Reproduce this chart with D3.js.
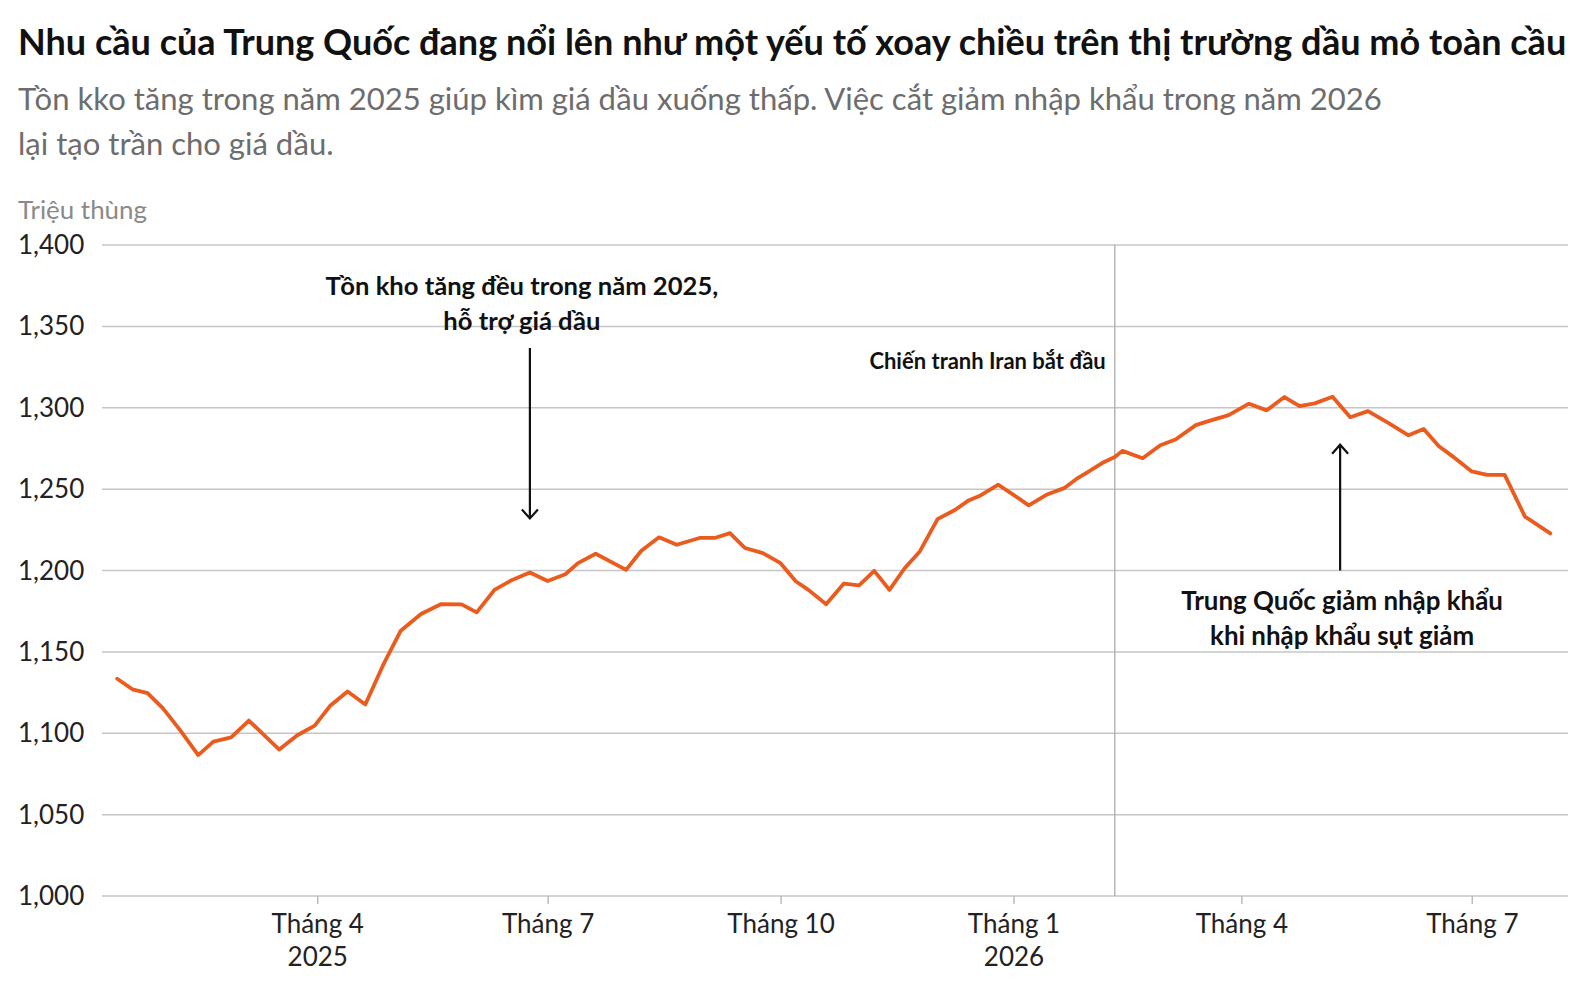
<!DOCTYPE html>
<html>
<head>
<meta charset="utf-8">
<script src="https://cdn.jsdelivr.net/npm/d3@7"></script>
<style>
  html, body { margin: 0; padding: 0; background: #fff; }
  svg { display: block; }
</style>
</head>
<body>
<div id="chart"></div>
<script>
// Tồn kho dầu thô Trung Quốc (triệu thùng)
const dates = [
  "2025-01-12","2025-01-18","2025-01-24","2025-01-30","2025-02-06","2025-02-13","2025-02-19","2025-02-26",
  "2025-03-05","2025-03-17","2025-03-24","2025-03-31","2025-04-06","2025-04-13","2025-04-20","2025-04-27",
  "2025-05-04","2025-05-12","2025-05-20","2025-05-28","2025-06-03","2025-06-10","2025-06-17","2025-06-24",
  "2025-07-01","2025-07-08","2025-07-13","2025-07-20","2025-08-01","2025-08-07","2025-08-14","2025-08-21",
  "2025-08-30","2025-09-05","2025-09-11","2025-09-17","2025-09-24","2025-10-01","2025-10-07","2025-10-12",
  "2025-10-19","2025-10-26","2025-11-01","2025-11-07","2025-11-13","2025-11-19","2025-11-25","2025-12-02",
  "2025-12-09","2025-12-14","2025-12-19","2025-12-26","2026-01-01","2026-01-07","2026-01-14","2026-01-21",
  "2026-01-26","2026-01-30","2026-02-05","2026-02-10","2026-02-13","2026-02-21","2026-02-28","2026-03-06",
  "2026-03-14","2026-03-19","2026-03-27","2026-04-04","2026-04-11","2026-04-18","2026-04-24","2026-04-30",
  "2026-05-07","2026-05-14","2026-05-21","2026-05-29","2026-06-06","2026-06-12","2026-06-18","2026-06-24",
  "2026-07-01","2026-07-07","2026-07-14","2026-07-22","2026-08-01"
];
const stocks = [
  1133.5, 1127, 1124.7, 1115.4, 1101.6, 1086.6, 1094.9, 1097.5, 1107.8, 1090,
  1098.6, 1104.7, 1116.7, 1125.7, 1117.7, 1141.8, 1163, 1173.3, 1179.4, 1179.2,
  1174.3, 1188.1, 1194.2, 1198.8, 1193.6, 1197.7, 1204.5, 1210.3, 1200.4, 1212.1,
  1220.4, 1215.8, 1220, 1220, 1223, 1213.8, 1210.7, 1204.5, 1193.4, 1188.1,
  1179.3, 1192, 1190.8, 1199.8, 1188.1, 1201.4, 1211.7, 1231.6, 1237.3, 1242.8,
  1246.1, 1252.7, 1246.5, 1240, 1246.5, 1250.6, 1256.4, 1260.2, 1266, 1269.7,
  1273.5, 1269, 1277, 1280.5, 1289.3, 1291.8, 1295.5, 1302.5, 1298.4, 1306.6,
  1301, 1302.7, 1306.8, 1294.2, 1297.9, 1290.7, 1283.1, 1287, 1276.3, 1269.5,
  1260.9, 1258.8, 1258.8, 1233.1, 1222.8
];
const yTicks = [1000, 1050, 1100, 1150, 1200, 1250, 1300, 1350, 1400];
const xTicks = ["2025-04-01", "2025-07-01", "2025-10-01", "2026-01-01", "2026-04-01", "2026-07-01"];
const xYears = { "2025-04-01": "2025", "2026-01-01": "2026" };
const warStart = "2026-02-10";

const title = "Nhu cầu của Trung Quốc đang nổi lên như một yếu tố xoay chiều trên thị trường dầu mỏ toàn cầu";
const subtitle = [
  "Tồn kko tăng trong năm 2025 giúp kìm giá dầu xuống thấp. Việc cắt giảm nhập khẩu trong năm 2026",
  "lại tạo trần cho giá dầu."
];
const unitLabel = "Triệu thùng";
const noteBuild = ["Tồn kho tăng đều trong năm 2025,", "hỗ trợ giá dầu"];
const noteWar = "Chiến tranh Iran bắt đầu";
const noteCut = ["Trung Quốc giảm nhập khẩu", "khi nhập khẩu sụt giảm"];

const W = 1592, H = 988;
const plotL = 102, plotR = 1568, plotT = 245, plotB = 896;
const FONT = "Lato, 'Open Sans', sans-serif";
const parse = d3.timeParse("%Y-%m-%d");
const fmtDay = d3.timeFormat("%Y-%m-%d");

const data = dates.map((d, i) => ({ date: parse(d), value: stocks[i] }));

const x = d3.scaleTime()
  .domain([parse("2025-01-06"), parse("2026-08-08")])
  .range([plotL, plotR]);
const y = d3.scaleLinear().domain([1000, 1400]).range([plotB, plotT]);

const svg = d3.select("#chart").append("svg")
  .attr("width", W).attr("height", H)
  .style("font-family", FONT);

// co chữ cho vừa bề ngang mong muốn
function fit(sel, width) {
  const size = parseFloat(sel.attr("font-size"));
  const len = sel.node().getComputedTextLength();
  const s = size * width / len;
  sel.attr("font-size", s);
  return s;
}

// tiêu đề + phụ đề
const t = svg.append("text")
  .attr("x", 18).attr("y", 55)
  .attr("font-size", 33).attr("font-weight", 700)
  .attr("fill", "#111")
  .text(title);
fit(t, 1549);

const sub1 = svg.append("text")
  .attr("x", 18).attr("y", 110)
  .attr("font-size", 28).attr("fill", "#6d6d6d")
  .text(subtitle[0]);
const subSize = fit(sub1, 1364);
svg.append("text")
  .attr("x", 18).attr("y", 155)
  .attr("font-size", subSize).attr("fill", "#6d6d6d")
  .text(subtitle[1]);

const unit = svg.append("text")
  .attr("x", 18).attr("y", 219)
  .attr("font-size", 23).attr("fill", "#8a8a8a")
  .text(unitLabel);
fit(unit, 129);

// lưới
svg.append("g")
  .selectAll("line")
  .data(yTicks)
  .join("line")
  .attr("x1", plotL).attr("x2", plotR)
  .attr("y1", d => y(d)).attr("y2", d => y(d))
  .attr("stroke", "#c6c6c6")
  .attr("stroke-width", 1.5);

svg.append("g")
  .selectAll("text")
  .data(yTicks)
  .join("text")
  .attr("x", 18)
  .attr("y", d => y(d))
  .attr("dy", "0.35em")
  .attr("font-size", 26)
  .attr("fill", "#222")
  .text(d => d3.format(",")(d));

// trục x
const xAxis = d3.axisBottom(x)
  .tickValues(xTicks.map(parse))
  .tickSize(8)
  .tickPadding(11)
  .tickFormat(d => "Tháng " + (d.getMonth() + 1));

const gx = svg.append("g")
  .attr("transform", `translate(0,${plotB})`)
  .call(xAxis);
gx.select(".domain").remove();
gx.selectAll(".tick line").attr("stroke", "#bbb").attr("stroke-width", 1.5);
gx.selectAll(".tick text")
  .attr("font-family", FONT)
  .attr("font-size", 26)
  .attr("fill", "#222");
gx.selectAll(".tick")
  .filter(d => xYears[fmtDay(d)])
  .append("text")
  .attr("y", 70)
  .attr("text-anchor", "middle")
  .attr("font-family", FONT)
  .attr("font-size", 26)
  .attr("fill", "#222")
  .text(d => xYears[fmtDay(d)]);

// vạch chiến tranh Iran
const wx = x(parse(warStart));
svg.append("line")
  .attr("x1", wx).attr("x2", wx)
  .attr("y1", y(1400)).attr("y2", y(1000))
  .attr("stroke", "#b5b5b5")
  .attr("stroke-width", 1.5);

// đường tồn kho
const line = d3.line()
  .x(d => x(d.date))
  .y(d => y(d.value));

svg.append("path")
  .datum(data)
  .attr("fill", "none")
  .attr("stroke", "#ea5b1d")
  .attr("stroke-width", 3.8)
  .attr("stroke-linejoin", "round")
  .attr("stroke-linecap", "round")
  .attr("d", line);

// mũi tên chú thích
function arrow(ax, yFrom, yTo) {
  const dir = yTo > yFrom ? -1 : 1;
  svg.append("path")
    .attr("d", `M${ax},${yFrom}V${yTo}M${ax - 8},${yTo + dir * 9}L${ax},${yTo}L${ax + 8},${yTo + dir * 9}`)
    .attr("fill", "none")
    .attr("stroke", "#111")
    .attr("stroke-width", 2.2);
}

function note(lines, cx, y0, size, anchor) {
  lines.forEach((s, i) => {
    svg.append("text")
      .attr("x", cx).attr("y", y0 + i * 34.5)
      .attr("text-anchor", anchor || "middle")
      .attr("font-size", size)
      .attr("font-weight", 700)
      .attr("fill", "#111")
      .text(s);
  });
}

const a1 = x(parse("2025-06-24"));
arrow(a1, y(1336.7), y(1232));
note(noteBuild, a1 - 8, y(1369.1), 25.6);

note([noteWar], wx - 9, y(1323.6), 22, "end");

const a2 = x(parse("2026-05-10"));
arrow(a2, y(1200), y(1277.3));
note(noteCut, a2 + 2, y(1175.5), 25.9);
</script>
</body>
</html>
